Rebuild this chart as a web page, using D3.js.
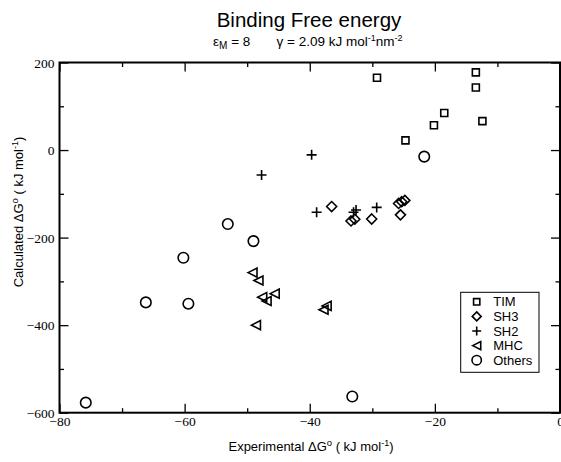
<!DOCTYPE html>
<html>
<head>
<meta charset="utf-8">
<script src="https://cdn.jsdelivr.net/npm/d3@7"></script>
<style>
  body { margin: 0; background: #fff; }
  svg { display: block; }
</style>
</head>
<body>
<svg width="561" height="462"></svg>
<script>
// values, [experimental, calculated]
var tim = [[-29.25, 165], [-13.45, 177.5], [-13.45, 143], [-18.5, 84.5], [-20.15, 56.5], [-12.4, 66], [-24.7, 22]];
var sh3 = [[-36.5, -129], [-33.4, -162], [-32.8, -158], [-30.1, -157.5], [-25.5, -148], [-25.8, -122], [-25.3, -118], [-24.8, -115]];
var sh2 = [[-47.7, -57], [-39.7, -11], [-38.9, -142], [-33.0, -142], [-32.6, -137], [-29.3, -131]];
var mhc = [[-49.15, -280], [-48.2, -298], [-45.6, -328], [-47.6, -336], [-46.9, -345], [-48.6, -400], [-37.8, -365], [-37.3, -356]];
var others = [[-53.1, -169], [-49, -208], [-60.2, -246], [-66.2, -348], [-59.4, -351], [-75.8, -577], [-33.2, -563], [-21.7, -15]];
var seriesNames = ["TIM", "SH3", "SH2", "MHC", "Others"];
var xMajor = [-80, -60, -40, -20, 0];
var xMinor = [-70, -50, -30, -10];
var yMajor = [-600, -400, -200, 0, 200];
var yMinor = [-500, -300, -100, 100];

var SANS = "'Liberation Sans', Arial, sans-serif";
var SERIF = "'Liberation Serif', 'Times New Roman', serif";

var svg = d3.select("svg");

var x = d3.scaleLinear().domain([-80, 0]).range([59.5, 560]);
var y = d3.scaleLinear().domain([-600, 200]).range([412.7, 62.5]);

// symbol shapes like the xmgrace ones
var sq = { draw: function(c, s) { var r = Math.sqrt(s) / 2; c.rect(-r, -r, 2 * r, 2 * r); } };
var dia = { draw: function(c, s) { var r = Math.sqrt(s) / 2; c.moveTo(0, -r); c.lineTo(r, 0); c.lineTo(0, r); c.lineTo(-r, 0); c.closePath(); } };
var plus = { draw: function(c, s) { var r = Math.sqrt(s) / 2; c.moveTo(-r, 0); c.lineTo(r, 0); c.moveTo(0, -r); c.lineTo(0, r); } };
var tri = { draw: function(c, s) { var r = Math.sqrt(s) / 2; c.moveTo(-r, 0); c.lineTo(r, -r); c.lineTo(r, r); c.closePath(); } };
var circ = { draw: function(c, s) { var r = Math.sqrt(s) / 2; c.moveTo(r, 0); c.arc(0, 0, r, 0, 2 * Math.PI); } };

var series = [
  { name: seriesNames[0], data: tim, type: sq, size: 7 },
  { name: seriesNames[1], data: sh3, type: dia, size: 10 },
  { name: seriesNames[2], data: sh2, type: plus, size: 10 },
  { name: seriesNames[3], data: mhc, type: tri, size: 9 },
  { name: seriesNames[4], data: others, type: circ, size: 10.5 }
];

// ticks, all pointing inward
function ticks(axis, g, vals, len, labels) {
  var a = axis.tickValues(vals).tickSizeInner(-len).tickSizeOuter(0).tickPadding(6);
  if (!labels) a.tickFormat("");
  g.call(a);
  g.select(".domain").remove();
  g.selectAll(".tick line").attr("stroke", "#000").attr("stroke-width", 1.3);
  g.selectAll(".tick text")
      .attr("fill", "#000")
      .style("font-family", SERIF)
      .style("font-size", "13.5px");
}
var gb = svg.append("g").attr("transform", "translate(0,412.7)");
ticks(d3.axisBottom(x), gb, xMajor, 9, true);
ticks(d3.axisBottom(x), svg.append("g").attr("transform", "translate(0,412.7)"), xMinor, 4.5, false);
ticks(d3.axisTop(x), svg.append("g").attr("transform", "translate(0,62.5)"), xMajor, 9, false);
ticks(d3.axisTop(x), svg.append("g").attr("transform", "translate(0,62.5)"), xMinor, 4.5, false);
var gl = svg.append("g").attr("transform", "translate(59.5,0)");
ticks(d3.axisLeft(y), gl, yMajor, 9, true);
ticks(d3.axisLeft(y), svg.append("g").attr("transform", "translate(59.5,0)"), yMinor, 4.5, false);
ticks(d3.axisRight(y), svg.append("g").attr("transform", "translate(560,0)"), yMajor, 9, false);
ticks(d3.axisRight(y), svg.append("g").attr("transform", "translate(560,0)"), yMinor, 4.5, false);
gb.selectAll(".tick text").attr("y", 3).attr("dy", "0.75em");
gl.selectAll(".tick text").attr("x", -5).attr("dy", "0.35em");

svg.append("rect")
    .attr("x", x(-80)).attr("y", y(200))
    .attr("width", x(0) - x(-80)).attr("height", y(-600) - y(200))
    .attr("fill", "none").attr("stroke", "#000").attr("stroke-width", 2);

// points
series.forEach(function(s) {
  var sym = d3.symbol().type(s.type).size(s.size * s.size);
  svg.append("g").selectAll("path")
    .data(s.data)
    .enter().append("path")
      .attr("transform", function(d) { return "translate(" + x(d[0]) + "," + y(d[1]) + ")"; })
      .attr("d", sym)
      .attr("fill", "none")
      .attr("stroke", "#000")
      .attr("stroke-width", 1.6);
});

// legend
var leg = svg.append("g").attr("transform", "translate(460.7,292.3)");
leg.append("rect").attr("width", 78.3).attr("height", 80).attr("fill", "#fff").attr("stroke", "#000").attr("stroke-width", 1);
var li = leg.selectAll("g.item").data(series).enter().append("g")
    .attr("transform", function(d, i) { return "translate(0," + (9.5 + i * 14.6) + ")"; });
li.append("path")
    .attr("transform", "translate(16,0)")
    .attr("d", function(d) { return d3.symbol().type(d.type).size(d.size * d.size * 0.8)(); })
    .attr("fill", "none").attr("stroke", "#000").attr("stroke-width", 1.6);
li.append("text")
    .attr("x", 32.5).attr("dy", "0.36em")
    .style("font-family", SANS).style("font-size", "13px")
    .text(function(d) { return d.name; });

// titles
svg.append("text")
    .attr("x", 309).attr("y", 27).attr("text-anchor", "middle")
    .style("font-family", SANS).style("font-size", "20.5px").text("Binding Free energy");

var sub = svg.append("text").attr("x", 213).attr("y", 46).style("font-family", SANS).style("font-size", "13.5px");
sub.append("tspan").text("ε");
sub.append("tspan").attr("dy", 3).style("font-size", "10px").text("M");
sub.append("tspan").attr("dy", -3).text(" = 8");
var sub2 = svg.append("text").attr("x", 276.5).attr("y", 46).style("font-family", SANS).style("font-size", "13.5px");
sub2.append("tspan").text("γ = 2.09 kJ mol");
sub2.append("tspan").attr("dy", -5).style("font-size", "9px").text("-1");
sub2.append("tspan").attr("dy", 5).text("nm");
sub2.append("tspan").attr("dy", -5).style("font-size", "9px").text("-2");

var xl = svg.append("text")
    .attr("x", 311).attr("y", 451).attr("text-anchor", "middle")
    .style("font-family", SANS).style("font-size", "13px");
xl.append("tspan").text("Experimental ΔG");
xl.append("tspan").attr("dy", -5).style("font-size", "9.5px").text("o");
xl.append("tspan").attr("dy", 5).text(" ( kJ mol");
xl.append("tspan").attr("dy", -5).style("font-size", "9px").text("-1");
xl.append("tspan").attr("dy", 5).text(")");

var yl = svg.append("text")
    .attr("transform", "translate(23,212) rotate(-90)")
    .attr("text-anchor", "middle")
    .style("font-family", SANS).style("font-size", "13px");
yl.append("tspan").text("Calculated ΔG");
yl.append("tspan").attr("dy", -5).style("font-size", "9.5px").text("o");
yl.append("tspan").attr("dy", 5).text(" ( kJ mol");
yl.append("tspan").attr("dy", -5).style("font-size", "9px").text("-1");
yl.append("tspan").attr("dy", 5).text(")");
</script>
</body>
</html>
